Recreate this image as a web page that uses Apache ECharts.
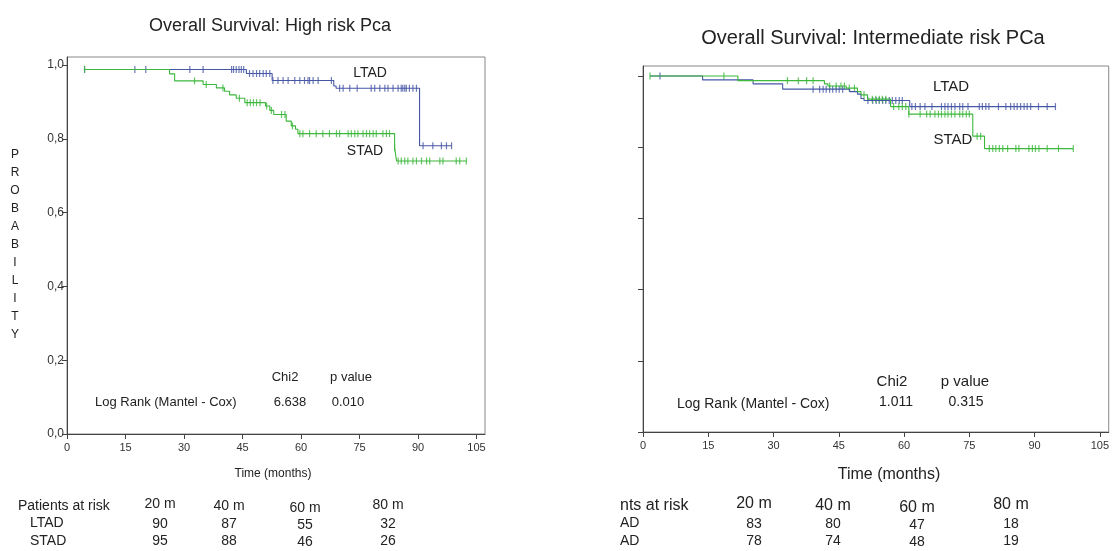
<!DOCTYPE html>
<html>
<head>
<meta charset="utf-8">
<title>Overall Survival</title>
<script src="https://cdn.jsdelivr.net/npm/echarts@6/dist/echarts.min.js"></script>
<style>
html, body { margin: 0; padding: 0; background: #fff; }
#main { width: 1112px; height: 551px; }
</style>
</head>
<body>
<div id="main"></div>
<script>
// ---- High risk PCa (left panel) ----
const hrLtadTimes = [4.5, 46.0, 52.6, 68.4, 69.0, 90.4, 98.6];
const hrLtadSurv = [0.988, 0.977, 0.958, 0.943, 0.937, 0.781, 0.781];
const hrLtadCensor = [4.5, 17.4, 20.2, 31.5, 34.9, 42.2, 42.7, 43.4, 44.1, 44.7, 45.3, 46.8, 47.7, 48.6, 49.4, 50.3, 51.1, 52.0, 52.8, 54.1, 55.4, 56.7, 58.4, 59.7, 60.9, 61.8, 62.2, 63.1, 64.4, 67.8, 69.9, 70.8, 72.5, 74.4, 78.0, 78.9, 80.2, 81.5, 82.3, 83.6, 84.9, 85.7, 86.1, 86.6, 87.0, 87.8, 88.7, 89.6, 91.3, 93.8, 96.0, 97.3, 98.6];

const hrStadTimes = [4.5, 26.3, 27.6, 34.9, 38.3, 40.4, 41.7, 43.4, 45.6, 50.9, 52.0, 53.0, 56.2, 57.5, 58.6, 59.2, 84.0, 84.5, 102.4];
const hrStadSurv = [0.988, 0.976, 0.957, 0.947, 0.938, 0.929, 0.919, 0.910, 0.898, 0.889, 0.877, 0.866, 0.848, 0.835, 0.826, 0.814, 0.776, 0.740, 0.740];
const hrStadCensor = [4.5, 32.7, 35.7, 40.0, 44.2, 46.2, 47.0, 47.8, 48.6, 49.5, 51.2, 52.4, 55.0, 55.9, 57.8, 59.7, 60.5, 62.2, 63.9, 65.6, 67.3, 69.1, 69.9, 72.1, 72.9, 73.8, 74.6, 75.9, 76.8, 77.6, 78.5, 79.3, 81.0, 81.9, 82.7, 84.0, 84.9, 85.7, 86.6, 87.4, 88.7, 89.6, 90.9, 92.2, 93.0, 95.6, 96.4, 99.8, 100.7, 102.4];

// ---- Intermediate risk PCa (right panel) ----
const irLtadTimes = [1.6, 13.7, 25.3, 32.1, 47.5, 49.3, 50.1, 50.8, 61.3, 94.8];
const irLtadSurv = [1.0, 0.989, 0.978, 0.963, 0.956, 0.949, 0.937, 0.931, 0.914, 0.914];
const irLtadCensor = [3.9, 39.1, 40.6, 41.4, 42.1, 42.9, 43.6, 44.4, 45.1, 45.9, 51.7, 52.8, 53.6, 54.3, 55.1, 55.8, 56.6, 57.3, 58.1, 58.9, 59.6, 61.8, 62.6, 63.7, 64.8, 66.4, 68.6, 69.4, 70.1, 70.9, 71.7, 72.8, 73.5, 74.7, 77.3, 78.0, 78.8, 79.5, 81.7, 83.4, 84.5, 85.3, 86.0, 86.8, 87.6, 88.3, 89.1, 90.9, 92.9, 94.8];

const irStadTimes = [1.6, 21.8, 41.7, 42.5, 46.7, 49.3, 50.1, 51.6, 56.9, 61.1, 75.8, 78.5, 98.9];
const irStadSurv = [1.0, 0.987, 0.978, 0.972, 0.966, 0.956, 0.947, 0.935, 0.914, 0.893, 0.831, 0.796, 0.796];
const irStadCensor = [1.6, 18.6, 33.2, 35.7, 37.6, 39.1, 42.9, 44.4, 45.5, 46.3, 47.4, 48.6, 50.8, 52.7, 53.5, 54.3, 55.0, 55.8, 57.6, 58.8, 59.6, 60.4, 61.1, 63.7, 65.2, 66.0, 67.1, 67.9, 68.6, 69.4, 70.1, 70.9, 71.7, 72.8, 73.5, 74.3, 75.0, 76.8, 77.6, 79.6, 80.4, 81.1, 81.9, 82.7, 83.8, 85.7, 86.4, 88.7, 89.5, 90.2, 91.0, 92.9, 95.5, 98.9];

// ---- axes, tables, stats ----
const xTicks = [0, 15, 30, 45, 60, 75, 90, 105];
const yTicks = [0, 0.2, 0.4, 0.6, 0.8, 1.0];
const riskHeaders = ["20 m", "40 m", "60 m", "80 m"];
const hrLtadRisk = [90, 87, 55, 32];
const hrStadRisk = [95, 88, 46, 26];
const irLtadRisk = [83, 80, 47, 18];
const irStadRisk = [78, 74, 48, 19];
const hrStats = ["6.638", "0.010"];
const irStats = ["1.011", "0.315"];

const FONT = '"Liberation Sans", Arial, Helvetica, sans-serif';
const BLUE = "#4657a6";
const GREEN = "#3cb83c";
const AXIS = "#444";
const TEXT = "#222";

const survAt = (times, surv, t) => {
  let s = surv[0];
  for (let i = 0; i < times.length; i++) {
    if (times[i] <= t) s = surv[i];
  }
  return s;
};
const stepData = (times, surv) => times.map((t, i) => [t, surv[i]]);
const censorData = (cens, times, surv) => cens.map(t => [t, survAt(times, surv, t)]);

const txt = (x, y, text, size, align, extra) => ({
  type: "text",
  x: x,
  y: y,
  z: 10,
  style: Object.assign({
    text: text,
    fontSize: size || 12,
    fontFamily: FONT,
    fill: TEXT,
    align: align || "center",
    verticalAlign: "middle"
  }, extra || {})
});

const makeX = (gridIndex, max) => ({
  type: "value",
  gridIndex: gridIndex,
  min: 0,
  max: max,
  interval: 15,
  splitLine: { show: false },
  axisLine: { lineStyle: { color: AXIS, width: 1 } },
  axisTick: { length: 5, customValues: xTicks, lineStyle: { color: AXIS } },
  axisLabel: {
    customValues: xTicks,
    fontSize: 11,
    fontFamily: FONT,
    color: "#333",
    margin: 8
  }
});

const makeY = (gridIndex, max, showLabel) => ({
  type: "value",
  gridIndex: gridIndex,
  min: 0,
  max: max,
  splitLine: { show: false },
  axisLine: { lineStyle: { color: AXIS, width: 1 } },
  axisTick: { length: 5, customValues: yTicks, lineStyle: { color: AXIS } },
  axisLabel: {
    show: showLabel,
    customValues: yTicks,
    fontSize: 12,
    fontFamily: FONT,
    color: "#333",
    margin: 3,
    formatter: v => v.toFixed(1).replace(".", ",")
  }
});

const lineSeries = (name, idx, times, surv, color) => ({
  name: name,
  type: "line",
  xAxisIndex: idx,
  yAxisIndex: idx,
  step: "end",
  showSymbol: false,
  silent: true,
  data: stepData(times, surv),
  lineStyle: { color: color, width: 1.1 },
  itemStyle: { color: color }
});

const censorSeries = (name, idx, cens, times, surv, color) => ({
  name: name,
  type: "scatter",
  xAxisIndex: idx,
  yAxisIndex: idx,
  symbol: "rect",
  symbolSize: [1.2, 7],
  silent: true,
  data: censorData(cens, times, surv),
  itemStyle: { color: color }
});

const riskTable = (x0, hx, headerText, rowNames, ltad, stad, hSize, vSize) => {
  const out = [];
  const hy = [504, 506, 508, 505];
  out.push(txt(x0, 506, headerText, hSize, "left"));
  out.push(txt(x0 + rowNames.dx, 523, rowNames.a, vSize, "left"));
  out.push(txt(x0 + rowNames.dx, 541, rowNames.b, vSize, "left"));
  riskHeaders.forEach((h, i) => {
    out.push(txt(hx[i], hy[i], h, hSize));
    out.push(txt(hx[i], 524 + (i === 2 ? 1 : 0), String(ltad[i]), vSize));
    out.push(txt(hx[i], 541 + (i === 2 ? 1 : 0), String(stad[i]), vSize));
  });
  return out;
};

const chart = echarts.init(document.getElementById("main"));

const graphics = [
  txt(270, 26, "Overall Survival: High risk Pca", 18),
  txt(873, 38, "Overall Survival: Intermediate risk PCa", 20),
  txt(15, 146, "PROBABILITY".split("").join("\n"), 12, "center", { verticalAlign: "top", lineHeight: 18 }),
  // left panel annotations
  txt(370, 73, "LTAD", 14),
  txt(365, 151, "STAD", 14),
  txt(285, 377, "Chi2", 13),
  txt(351, 377, "p value", 13),
  txt(95, 402, "Log Rank (Mantel - Cox)", 13, "left"),
  txt(290, 402, hrStats[0], 13),
  txt(348, 402, hrStats[1], 13),
  txt(273, 474, "Time (months)", 12),
  // right panel annotations
  txt(951, 87, "LTAD", 15),
  txt(953, 140, "STAD", 15),
  txt(892, 382, "Chi2", 15),
  txt(965, 382, "p value", 15),
  txt(677, 404, "Log Rank (Mantel - Cox)", 14, "left"),
  txt(896, 402, irStats[0], 14),
  txt(966, 402, irStats[1], 14),
  txt(889, 475, "Time (months)", 16)
].concat(
  riskTable(18, [160, 229, 305, 388], "Patients at risk", { dx: 12, a: "LTAD", b: "STAD" }, hrLtadRisk, hrStadRisk, 14, 14),
  riskTable(620, [754, 833, 917, 1011], "nts at risk", { dx: 0, a: "AD", b: "AD" }, irLtadRisk, irStadRisk, 16, 14)
);

const option = {
  animation: false,
  backgroundColor: "#fff",
  textStyle: { fontFamily: FONT },
  grid: [
    { left: 67, top: 57, width: 418, height: 377, show: true, borderColor: "#888", borderWidth: 1, containLabel: false },
    { left: 643, top: 66, width: 471, height: 366, show: true, borderColor: "#888", borderWidth: 1, containLabel: false }
  ],
  xAxis: [makeX(0, 418 / 3.9), makeX(1, 471 / 4.4)],
  yAxis: [makeY(0, 377 / 369, true), makeY(1, 366 / 356, false)],
  series: [
    lineSeries("LTAD", 0, hrLtadTimes, hrLtadSurv, BLUE),
    censorSeries("LTAD censored", 0, hrLtadCensor, hrLtadTimes, hrLtadSurv, BLUE),
    lineSeries("STAD", 0, hrStadTimes, hrStadSurv, GREEN),
    censorSeries("STAD censored", 0, hrStadCensor, hrStadTimes, hrStadSurv, GREEN),
    lineSeries("LTAD", 1, irLtadTimes, irLtadSurv, BLUE),
    censorSeries("LTAD censored", 1, irLtadCensor, irLtadTimes, irLtadSurv, BLUE),
    lineSeries("STAD", 1, irStadTimes, irStadSurv, GREEN),
    censorSeries("STAD censored", 1, irStadCensor, irStadTimes, irStadSurv, GREEN)
  ],
  graphic: graphics
};

chart.setOption(option);
</script>
</body>
</html>
